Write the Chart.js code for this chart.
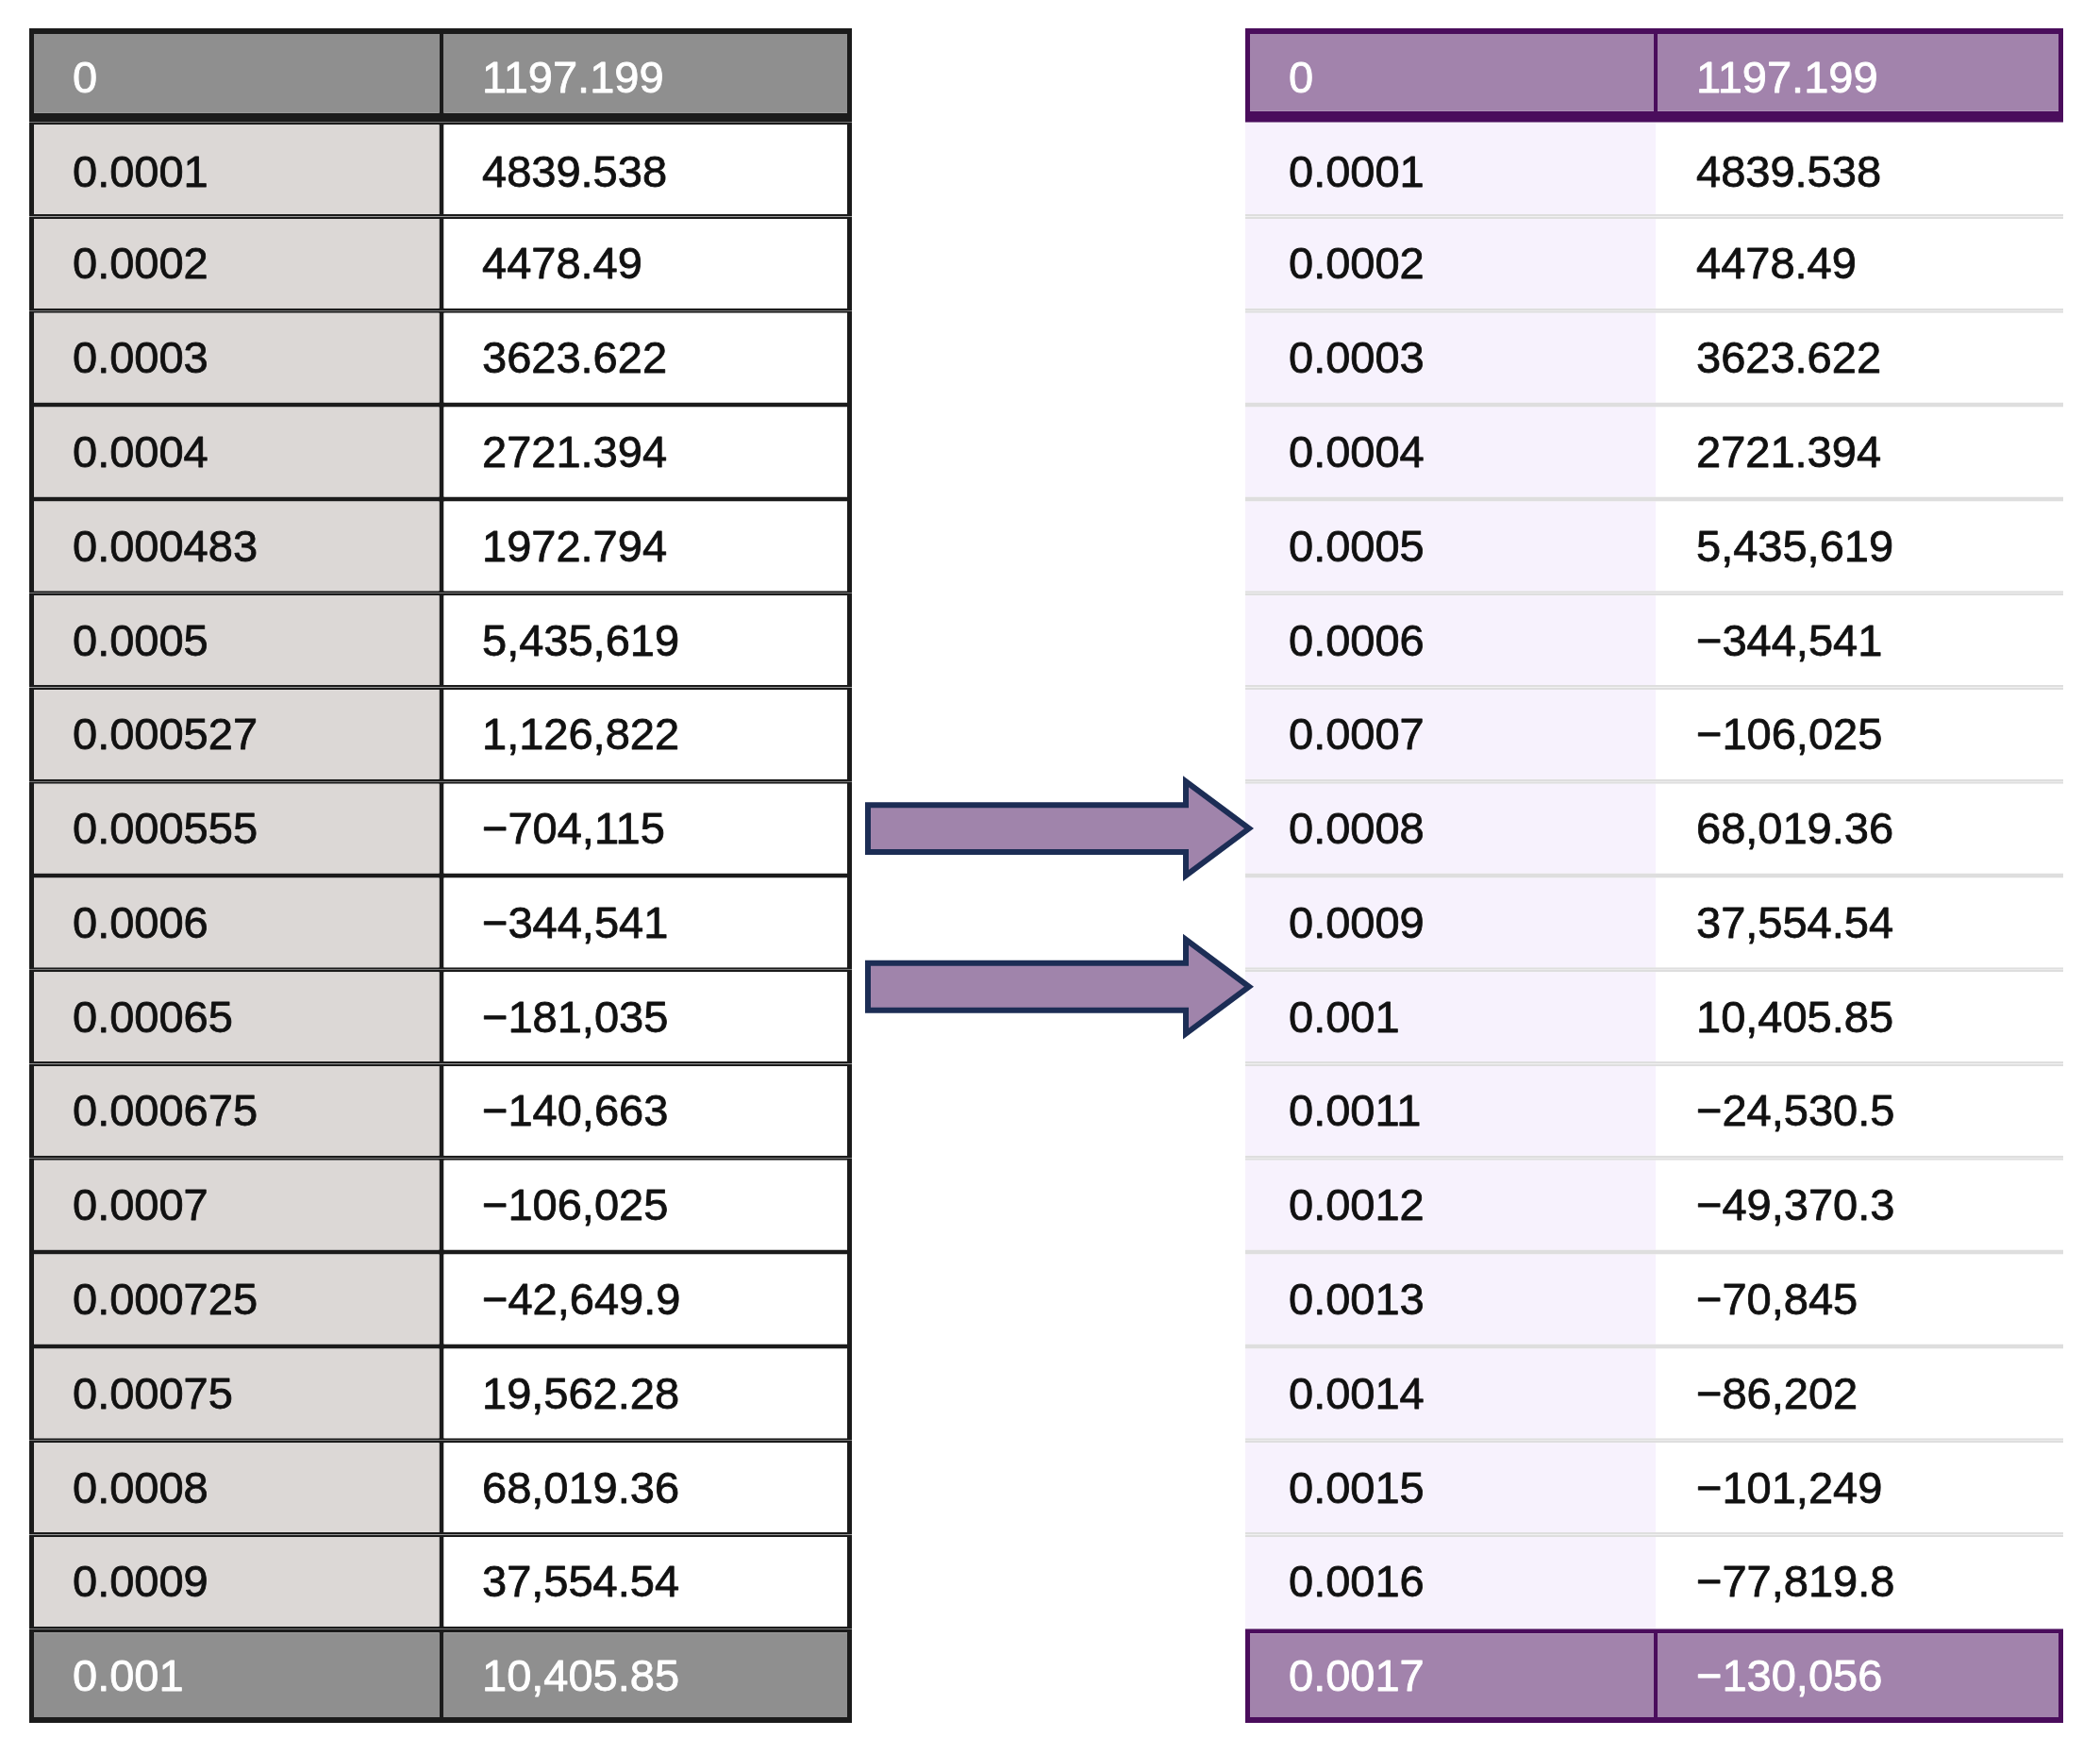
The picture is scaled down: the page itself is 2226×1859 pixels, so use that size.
<!DOCTYPE html>
<html>
<head>
<meta charset="utf-8">
<title>Step table</title>
<script src="https://cdn.jsdelivr.net/npm/chart.js@4.4.1/dist/chart.umd.min.js"></script>
<style>
  html, body { margin: 0; padding: 0; background: #fff; }
  canvas { display: block; }
</style>
</head>
<body>
<canvas id="tableChart" width="2226" height="1859"></canvas>
<script>
// Table contents
const leftKeys = ['0', '0.0001', '0.0002', '0.0003', '0.0004', '0.000483', '0.0005', '0.000527', '0.000555',
    '0.0006', '0.00065', '0.000675', '0.0007', '0.000725', '0.00075', '0.0008', '0.0009', '0.001'];
const leftVals = ['1197.199', '4839.538', '4478.49', '3623.622', '2721.394', '1972.794', '5,435,619', '1,126,822',
    '−704,115', '−344,541', '−181,035', '−140,663', '−106,025', '−42,649.9', '19,562.28', '68,019.36', '37,554.54', '10,405.85'];
const rightKeys = ['0', '0.0001', '0.0002', '0.0003', '0.0004', '0.0005', '0.0006', '0.0007', '0.0008',
    '0.0009', '0.001', '0.0011', '0.0012', '0.0013', '0.0014', '0.0015', '0.0016', '0.0017'];
const rightVals = ['1197.199', '4839.538', '4478.49', '3623.622', '2721.394', '5,435,619', '−344,541', '−106,025',
    '68,019.36', '37,554.54', '10,405.85', '−24,530.5', '−49,370.3', '−70,845', '−86,202', '−101,249', '−77,819.8', '−130,056'];
// rows the two arrows point at
const arrowRows = [8, 9.68];

// layout, in x-scale units
const leftCols = [31, 468, 903];
const rightCols = [1320, 1755, 2187];
const arrowSpan = [920, 1257, 1324];
const textPads = [46, 43];

const rowLabels = leftKeys.map((_, i) => String(i));
const lastRow = rowLabels.length - 1;
const isEdge = i => i === 0 || i === lastRow;

const colors = {
    greyHead: '#8f8f8f',
    greyKey: '#dcd8d6',
    black: '#1b1b1b',
    purpleHead: '#a283ac',
    purpleLine: '#4a0d5c',
    lavender: '#f7f2fd',
    rule: '#dedede',
    arrowFill: '#a084ab',
    arrowLine: '#1c2d55'
};

function leftBorder(i, col) {
    let top = 2.5, bottom = 2.5;
    if (i === 0) { top = 6; bottom = 10; }
    if (i === lastRow) { top = 4; bottom = 6; }
    return {
        top, bottom,
        left: col === 0 ? 5 : 2.5,
        right: col === 0 ? 2.5 : 5
    };
}

function rightBorder(i, col) {
    if (i === 0) return { top: 6, bottom: 12, left: col === 0 ? 5 : 2, right: col === 0 ? 2 : 5 };
    if (i === lastRow) return { top: 5, bottom: 6, left: col === 0 ? 5 : 2, right: col === 0 ? 2 : 5 };
    return { top: i === 1 ? 0 : 2.5, bottom: i === lastRow - 1 ? 0 : 2.5, left: 0, right: 0 };
}

function cellSet(texts, cols, col, side) {
    const left = side === 'left';
    return {
        data: texts.map(() => [cols[col], cols[col + 1]]),
        cellText: texts,
        textPad: textPads[col],
        backgroundColor: ctx => {
            if (isEdge(ctx.dataIndex)) return left ? colors.greyHead : colors.purpleHead;
            if (col === 1) return '#ffffff';
            return left ? colors.greyKey : colors.lavender;
        },
        borderColor: ctx => {
            if (left) return colors.black;
            return isEdge(ctx.dataIndex) ? colors.purpleLine : colors.rule;
        },
        borderWidth: ctx => left ? leftBorder(ctx.dataIndex, col) : rightBorder(ctx.dataIndex, col),
        borderSkipped: false,
        inflateAmount: 0,
        grouped: false,
        barPercentage: 1,
        categoryPercentage: 1
    };
}

const cellText = {
    id: 'cellText',
    afterDatasetsDraw(chart) {
        const ctx = chart.ctx;
        ctx.save();
        ctx.font = '47px "Liberation Sans", Arial, sans-serif';
        ctx.textBaseline = 'middle';
        ctx.textAlign = 'left';
        ctx.lineWidth = 0.8;
        ctx.lineJoin = 'round';
        chart.data.datasets.forEach((ds, di) => {
            chart.getDatasetMeta(di).data.forEach((bar, i) => {
                const c = isEdge(i) ? '#ffffff' : '#111111';
                const tx = Math.min(bar.x, bar.base) + ds.textPad;
                const ty = bar.y + (i < 2 ? 5 : 3);
                ctx.fillStyle = c;
                ctx.strokeStyle = c;
                ctx.fillText(ds.cellText[i], tx, ty);
                ctx.strokeText(ds.cellText[i], tx, ty);
            });
        });
        ctx.restore();
    }
};

const arrows = {
    id: 'arrows',
    afterDatasetsDraw(chart) {
        const { ctx, scales: { x, y } } = chart;
        const x0 = x.getPixelForValue(arrowSpan[0]);
        const x1 = x.getPixelForValue(arrowSpan[1]);
        const x2 = x.getPixelForValue(arrowSpan[2]);
        const rowH = Math.abs(y.getPixelForValue(1) - y.getPixelForValue(0));
        const bodyH = rowH * 0.25, headH = rowH * 0.5;
        ctx.save();
        arrowRows.forEach(r => {
            const cy = y.getPixelForValue(r);
            ctx.beginPath();
            ctx.moveTo(x0, cy - bodyH);
            ctx.lineTo(x1, cy - bodyH);
            ctx.lineTo(x1, cy - headH);
            ctx.lineTo(x2, cy);
            ctx.lineTo(x1, cy + headH);
            ctx.lineTo(x1, cy + bodyH);
            ctx.lineTo(x0, cy + bodyH);
            ctx.closePath();
            ctx.fillStyle = colors.arrowFill;
            ctx.fill();
            ctx.lineWidth = 6;
            ctx.lineJoin = 'miter';
            ctx.strokeStyle = colors.arrowLine;
            ctx.stroke();
        });
        ctx.restore();
    }
};

new Chart(document.getElementById('tableChart'), {
    type: 'bar',
    data: {
        labels: rowLabels,
        datasets: [
            cellSet(leftKeys, leftCols, 0, 'left'),
            cellSet(leftVals, leftCols, 1, 'left'),
            cellSet(rightKeys, rightCols, 0, 'right'),
            cellSet(rightVals, rightCols, 1, 'right')
        ]
    },
    options: {
        indexAxis: 'y',
        responsive: false,
        devicePixelRatio: 1,
        animation: false,
        events: [],
        layout: { padding: { top: 30, bottom: 33, left: 0, right: 0 } },
        plugins: { legend: { display: false }, tooltip: { enabled: false } },
        scales: {
            x: { type: 'linear', min: 0, max: 2226, display: false },
            y: { display: false, offset: true }
        }
    },
    plugins: [cellText, arrows]
});
</script>
</body>
</html>
